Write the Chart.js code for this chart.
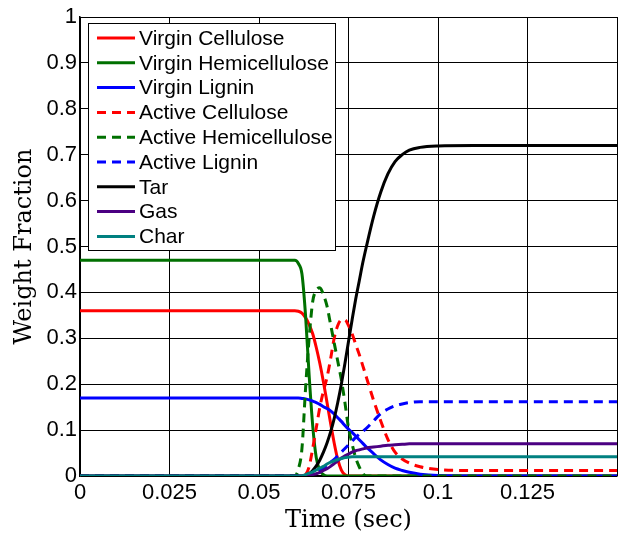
<!DOCTYPE html>
<html>
<head>
<meta charset="utf-8">
<script src="https://cdn.jsdelivr.net/npm/chart.js"></script>
<style>
  body { margin: 0; background: #fff; }
  #wrap { width: 624px; height: 535px; }
</style>
</head>
<body>
<div id="wrap"><canvas id="myChart" width="624" height="535"></canvas></div>
<script>

/* time grid (sec) */
const time = [0, 0.055, 0.06, 0.061, 0.062, 0.063, 0.064, 0.065, 0.066, 0.067, 0.068, 0.069,
      0.07, 0.071, 0.072, 0.073, 0.074, 0.075, 0.076, 0.077, 0.078, 0.079, 0.08, 0.082,
      0.084, 0.086, 0.088, 0.09, 0.092, 0.095, 0.1, 0.11, 0.12, 0.13, 0.14, 0.15];

/* weight fractions */
const virginCellulose = [0.36, 0.36, 0.36, 0.359, 0.355, 0.345, 0.33, 0.31, 0.28, 0.245, 0.205, 0.16,
      0.115, 0.072, 0.036, 0.013, 0.003, 0, 0, 0, 0, 0, 0, 0,
      0, 0, 0, 0, 0, 0, 0, 0, 0, 0, 0, 0];
const virginHemicellulose = [0.47, 0.47, 0.47, 0.463, 0.44, 0.35, 0.22, 0.11, 0.04, 0.012, 0.003, 0,
      0, 0, 0, 0, 0, 0, 0, 0, 0, 0, 0, 0,
      0, 0, 0, 0, 0, 0, 0, 0, 0, 0, 0, 0];
const virginLignin = [0.17, 0.17, 0.17, 0.17, 0.169, 0.168, 0.166, 0.163, 0.16, 0.156, 0.151, 0.147,
      0.142, 0.135, 0.127, 0.119, 0.11, 0.102, 0.095, 0.087, 0.079, 0.071, 0.063, 0.049,
      0.035, 0.025, 0.017, 0.012, 0.008, 0.004, 0.001, 0, 0, 0, 0, 0];
const activeCellulose = [0, 0, 0, 0, 0, 0.003, 0.02, 0.06, 0.105, 0.15, 0.185, 0.215,
      0.255, 0.3, 0.328, 0.34, 0.34, 0.328, 0.31, 0.287, 0.265, 0.24, 0.215, 0.165,
      0.12, 0.08, 0.052, 0.037, 0.028, 0.02, 0.014, 0.012, 0.012, 0.012, 0.012, 0.012];
const activeHemicellulose = [0, 0, 0, 0.015, 0.06, 0.19, 0.3, 0.38, 0.405, 0.41, 0.395, 0.37,
      0.33, 0.29, 0.25, 0.21, 0.16, 0.105, 0.07, 0.04, 0.02, 0.005, 0, 0,
      0, 0, 0, 0, 0, 0, 0, 0, 0, 0, 0, 0];
const activeLignin = [0, 0, 0, 0, 0, 0, 0.002, 0.005, 0.008, 0.012, 0.017, 0.023,
      0.03, 0.036, 0.044, 0.052, 0.06, 0.068, 0.076, 0.084, 0.091, 0.097, 0.104, 0.12,
      0.136, 0.146, 0.153, 0.157, 0.16, 0.162, 0.162, 0.162, 0.162, 0.162, 0.162, 0.162];
const tar = [0, 0, 0, 0, 0, 0.001, 0.005, 0.012, 0.022, 0.035, 0.052, 0.072,
      0.096, 0.125, 0.16, 0.2, 0.245, 0.293, 0.34, 0.385, 0.425, 0.465, 0.5, 0.565,
      0.618, 0.658, 0.685, 0.7, 0.71, 0.716, 0.719, 0.72, 0.72, 0.72, 0.72, 0.72];
const gas = [0, 0, 0, 0, 0, 0, 0.001, 0.003, 0.005, 0.008, 0.012, 0.016,
      0.021, 0.027, 0.033, 0.039, 0.044, 0.048, 0.052, 0.055, 0.057, 0.059, 0.061, 0.063,
      0.065, 0.067, 0.068, 0.069, 0.07, 0.07, 0.07, 0.07, 0.07, 0.07, 0.07, 0.07];
const char = [0, 0, 0, 0, 0, 0.003, 0.006, 0.009, 0.013, 0.017, 0.021, 0.026,
      0.03, 0.033, 0.036, 0.038, 0.04, 0.041, 0.042, 0.042, 0.042, 0.042, 0.042, 0.042,
      0.042, 0.042, 0.042, 0.042, 0.042, 0.042, 0.042, 0.042, 0.042, 0.042, 0.042, 0.042];

const seriesNames = ["Virgin Cellulose", "Virgin Hemicellulose", "Virgin Lignin",
      "Active Cellulose", "Active Hemicellulose", "Active Lignin", "Tar", "Gas", "Char"];
const seriesValues = [virginCellulose, virginHemicellulose, virginLignin,
      activeCellulose, activeHemicellulose, activeLignin, tar, gas, char];
const seriesColors = ["#ff0000", "#007000", "#0000ff", "#ff0000", "#007000", "#0000ff",
      "#000000", "#4b0082", "#008080"];
const seriesDashed = [false, false, false, true, true, true, false, false, false];

const xTickLabels = ["0", "0.025", "0.05", "0.075", "0.1", "0.125", ""];
const yTickLabels = ["0", "0.1", "0.2", "0.3", "0.4", "0.5", "0.6", "0.7", "0.8", "0.9", "1"];

/* legend drawn inside the plot, top-left, like matlab */
const boxLegend = {
      id: "boxLegend",
      afterDraw(chart) {
            const ctx = chart.ctx;
            const x = 88, y = 23, w = 247, h = 227, step = 24.8;
            ctx.save();
            ctx.fillStyle = "#fff";
            ctx.fillRect(x, y, w, h);
            ctx.strokeStyle = "#000";
            ctx.lineWidth = 1;
            ctx.strokeRect(x + 0.5, y + 0.5, w, h);
            ctx.font = "21px 'Liberation Sans', Arial, sans-serif";
            ctx.textBaseline = "middle";
            chart.data.datasets.forEach((ds, i) => {
                  const cy = y + 15 + i * step;
                  ctx.strokeStyle = ds.borderColor;
                  ctx.lineWidth = 3;
                  ctx.setLineDash(ds.borderDash || []);
                  ctx.beginPath();
                  ctx.moveTo(97, cy);
                  ctx.lineTo(135, cy);
                  ctx.stroke();
                  ctx.setLineDash([]);
                  ctx.fillStyle = "#000";
                  ctx.fillText(ds.label, 139, cy + 1);
            });
            ctx.restore();
      }
};

function createChart() {
      const canvaNode = document.getElementById("myChart");

      const datasets = seriesNames.map((name, i) => ({
            label: name,
            data: time.map((t, k) => ({ x: t, y: seriesValues[i][k] })),
            borderColor: seriesColors[i],
            backgroundColor: seriesColors[i],
            borderWidth: 3,
            borderDash: seriesDashed[i] ? [9, 6] : [],
            pointRadius: 0,
            fill: false,
            cubicInterpolationMode: "monotone",
            order: seriesNames.length - 1 - i // later series on top
      }));

      const tickFont = { family: "'Liberation Sans', Arial, sans-serif", size: 22 };
      const titleFont = { family: "'DejaVu Serif', serif", size: 24 };

      chart = new Chart(canvaNode, {
            type: "line",
            data: { datasets: datasets },
            plugins: [boxLegend],
            options: {
                  responsive: false,
                  animation: false,
                  layout: { padding: { top: 17, right: 7, left: 0, bottom: 0 } },
                  plugins: {
                        legend: { display: false },
                        tooltip: { enabled: false }
                  },
                  scales: {
                        x: {
                              type: "linear",
                              min: 0,
                              max: 0.15,
                              afterFit: (s) => { s.height = 59; },
                              afterBuildTicks: (s) => {
                                    s.ticks = xTickLabels.map((_, i) => ({ value: i * 0.025 }));
                              },
                              ticks: {
                                    color: "#000",
                                    font: tickFont,
                                    padding: 4,
                                    maxRotation: 0,
                                    autoSkip: false,
                                    callback: (v, i) => xTickLabels[i]
                              },
                              grid: { color: "#000", lineWidth: 1, drawTicks: false },
                              border: { color: "#000", width: 1.5 },
                              title: {
                                    display: true,
                                    text: "Time (sec)",
                                    color: "#000",
                                    font: titleFont,
                                    padding: { top: 4, bottom: 0 }
                              }
                        },
                        y: {
                              min: 0,
                              max: 1,
                              afterFit: (s) => { s.width = 80; },
                              afterBuildTicks: (s) => {
                                    s.ticks = yTickLabels.map((_, i) => ({ value: i / 10 }));
                              },
                              ticks: {
                                    color: "#000",
                                    font: tickFont,
                                    padding: 3,
                                    autoSkip: false,
                                    callback: (v, i) => yTickLabels[i]
                              },
                              grid: { color: "#000", lineWidth: 1, drawTicks: false },
                              border: { color: "#000", width: 1.5 },
                              title: {
                                    display: true,
                                    text: "Weight Fraction",
                                    color: "#000",
                                    font: titleFont,
                                    padding: { top: 10, bottom: 0 }
                              }
                        }
                  }
            }
      });
}

createChart();
</script>
</body>
</html>
